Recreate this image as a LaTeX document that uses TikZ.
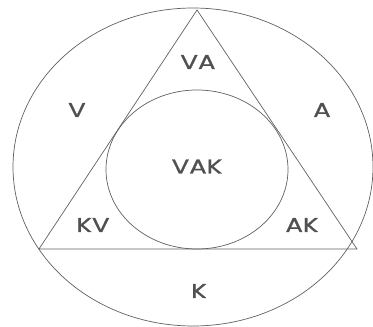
\documentclass[tikz,border=0pt]{standalone}
\usepackage{fontspec}
\setmainfont{Poppins}[FakeStretch=1.3,FakeBold=1.2]
\definecolor{linegray}{HTML}{606060}
\definecolor{textgray}{HTML}{505050}
\begin{document}
\begin{tikzpicture}[x=1pt,y=1pt,
  shape line/.style={draw=linegray, line width=0.7pt},
  lbl/.style={text=textgray, font=\fontsize{20}{20}\selectfont, inner sep=0pt, anchor=center}]
\useasboundingbox (0,0) rectangle (373,327);
% outer ellipse
\draw[shape line] (193,160) ellipse [x radius=180, y radius=159];
% triangle
\coordinate (apex) at (197,317);
\coordinate (bl) at (39,78);
\coordinate (br) at (357,78);
\draw[shape line] (apex) -- (bl) -- (br) -- cycle;
% inner ellipse
\draw[shape line] (197,157.5) ellipse [x radius=91, y radius=79.5];
% labels
\node[lbl] (va) at (198,265) {VA};
\node[lbl] (v) at (77,217) {V};
\node[lbl] (a) at (322,217) {A};
\node[lbl] (vak) at (197,160.5) {VAK};
\node[lbl] (kv) at (93,102) {KV};
\node[lbl] (ak) at (302,102) {AK};
\node[lbl] (k) at (199,36) {K};
\end{tikzpicture}
\end{document}
